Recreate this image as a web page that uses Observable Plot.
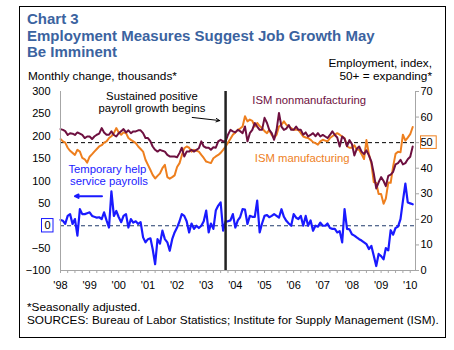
<!DOCTYPE html>
<html><head><meta charset="utf-8">
<script src="https://cdn.jsdelivr.net/npm/d3@7"></script>
<script src="https://cdn.jsdelivr.net/npm/@observablehq/plot@0.6"></script>
<style>
body{margin:0;background:#fff;font-family:"Liberation Sans",Arial,sans-serif;}
#wrap{position:relative;width:454px;height:350px;overflow:hidden;background:#fff;}
#frame{position:absolute;left:19px;top:6px;width:427px;height:332px;border:1.5px solid #000;box-sizing:border-box;}
#title{position:absolute;left:27px;top:11px;font-weight:bold;font-size:15px;line-height:16.6px;color:#3b63a0;white-space:nowrap;}
.lab{position:absolute;font-size:11.8px;line-height:13px;color:#000;white-space:nowrap;}
#foot{position:absolute;left:27px;top:301px;font-size:11.8px;line-height:13px;color:#000;white-space:nowrap;}
#chart{position:absolute;left:0;top:60px;}
</style></head>
<body>
<div id="wrap">
  <div id="frame"></div>
  <div id="title">Chart 3<br>Employment Measures Suggest Job Growth May<br>Be Imminent</div>
  <div class="lab" style="left:28px;top:70px;">Monthly change, thousands*</div>
  <div class="lab" style="right:22px;top:57px;text-align:right;">Employment, index,<br>50+ = expanding*</div>
  <div id="chart"></div>
  <div id="foot">*Seasonally adjusted.<br>SOURCES: Bureau of Labor Statistics; Institute for Supply Management (ISM).</div>
</div>
<script>
// ---- data (monthly, Jan 1998 – Feb 2010) ----
const tempHelp1998 = [13, 11, 4, 22, 26, 4, 15, -22, 37, 26, 26, 28];
const tempHelp1999 = [30, 22, 20, 18, 19, 15, 30, 12, -4, 77, 22, 33];
const tempHelp2000 = [19, 8, 22, 26, -4, 15, 7, 10, 4, 8, -26, -37];
const tempHelp2001 = [-30, -28, -52, -86, -30, -40, -11, -30, -37, -56, -30, -15];
const tempHelp2002 = [-4, 10, 26, 22, 10, -15, 5, -7, 0, -5, 0, 10];
const tempHelp2003 = [34, -15, 5, -7, 34, 45, 52, -11, 10, 10, 12, 26];
const tempHelp2004 = [-4, 12, 19, 37, 36, 4, 22, 20, 20, 56, -15, 5];
const tempHelp2005 = [22, 24, 19, 22, 26, 22, 18, 37, 20, 11, 5, 0];
const tempHelp2006 = [26, 18, 15, 22, 0, 22, 0, 12, -11, 0, -2, 7];
const tempHelp2007 = [0, 0, 5, -5, -7, -7, -15, -12, -37, 37, -7, -8];
const tempHelp2008 = [-19, -22, -26, -30, -33, -37, -41, -52, -45, -67, -90, -63];
const tempHelp2009 = [-68, -75, -50, -55, -10, -20, -5, -2, 15, 55, 94, 52];
const tempHelp2010 = [50, 48];

const ismNonmfg1998 = [55.3, 55, 54.5, 53, 53.7, 53.5, 53, 54, 53.5, 53, 51.8, 52.4];
const ismNonmfg1999 = [52.4, 51.4, 52.4, 53.1, 53.5, 55.7, 54, 53.1, 53.1, 54.4, 53, 52.4];
const ismNonmfg2000 = [53.7, 54.5, 55.3, 54, 54.8, 53.7, 54.4, 54.4, 54.8, 54.8, 53.7, 51.8];
const ismNonmfg2001 = [51.8, 50.5, 48.5, 47.2, 46.5, 47.2, 46.8, 46.5, 45.2, 44.6, 44.6, 44.6];
const ismNonmfg2002 = [44.3, 46, 48, 44.6, 46.5, 46.5, 47.2, 46.5, 47.2, 47.8, 50.5, 48.5];
const ismNonmfg2003 = [48, 48, 47.2, 48.2, 48, 50.5, 51.1, 50.5, 50.5, 53.1, 55, 54.4];
const ismNonmfg2004 = [54, 55, 54.5, 53.7, 56.3, 50.5, 53.7, 55, 57.7, 56.3, 55, 55];
const ismNonmfg2005 = [59.7, 57.7, 55, 53.7, 51.1, 55, 61.6, 56.3, 55, 55.5, 56.9, 55];
const ismNonmfg2006 = [55, 56.3, 55, 55, 53.1, 54, 52.4, 53, 53.7, 52.5, 53.7, 52.4];
const ismNonmfg2007 = [53, 52.4, 51.8, 53, 54.4, 53, 52, 48.5, 52.4, 51.5, 48.6, 51];
const ismNonmfg2008 = [49.5, 45, 47.5, 48.5, 46.5, 45.5, 47, 45, 42.6, 38, 32.1, 34.5];
const ismNonmfg2009 = [36.5, 35, 33, 37, 37.5, 38.6, 41.5, 42, 43.3, 41.5, 42, 43.5];
const ismNonmfg2010 = [44.5, 48.5];

const ismMfg1998 = [51.4, 50.5, 50, 48, 46.8, 46, 45.2, 47.2, 46.5, 44, 43.5, 42.2];
const ismMfg1999 = [44.5, 45.5, 46.5, 47.5, 48.5, 49, 50, 50.5, 51.8, 52.5, 53.7, 55.7];
const ismMfg2000 = [54, 53.1, 54, 53.7, 51.8, 51.1, 50.5, 49.8, 48.5, 47.5, 46.5, 43.3];
const ismMfg2001 = [41.3, 39.3, 37.4, 36, 37, 38, 40, 41.3, 36.5, 35.9, 36.5, 37.2];
const ismMfg2002 = [40.5, 42, 45, 47.8, 48.5, 48, 46.5, 47.2, 46.8, 46.5, 45.2, 44];
const ismMfg2003 = [42.6, 42.3, 42, 43.9, 44.6, 45.2, 46, 47.2, 48.5, 50, 51.5, 53.1];
const ismMfg2004 = [54, 55, 55.5, 56.3, 60.3, 58.3, 59, 58.5, 56.3, 57.7, 56.5, 55.7];
const ismMfg2005 = [54.5, 53.7, 55, 53, 51.8, 53.1, 56.3, 57, 58.3, 57, 56.3, 55.7];
const ismMfg2006 = [55, 55, 55, 53.7, 52.4, 52, 51.8, 51.1, 50.2, 49.8, 49.2, 50.5];
const ismMfg2007 = [51.1, 50.8, 50.5, 51.8, 52.5, 53.1, 53.7, 53.1, 52.4, 51.8, 48.6, 48];
const ismMfg2008 = [48, 49, 47.3, 47.2, 45.5, 43.6, 51, 45.5, 41.8, 34.6, 34.2, 29.9];
const ismMfg2009 = [29.9, 26.1, 28.1, 34.4, 34.3, 40.7, 45.6, 46.4, 46.2, 53.1, 50.8, 52.0];
const ismMfg2010 = [53.3, 56.1];

const yearLabels = ["'98","'99","'00","'01","'02","'03","'04","'05","'06","'07","'08","'09","'10"];
const leftTicks = [-100, -50, 0, 50, 100, 150, 200, 250, 300];
const rightTicks = [0, 10, 20, 30, 40, 50, 60, 70];
const eventDate = "2003-09-01";

const tempHelp = [].concat(tempHelp1998, tempHelp1999, tempHelp2000, tempHelp2001, tempHelp2002, tempHelp2003, tempHelp2004, tempHelp2005, tempHelp2006, tempHelp2007, tempHelp2008, tempHelp2009, tempHelp2010);
const ismNonmfg = [].concat(ismNonmfg1998, ismNonmfg1999, ismNonmfg2000, ismNonmfg2001, ismNonmfg2002, ismNonmfg2003, ismNonmfg2004, ismNonmfg2005, ismNonmfg2006, ismNonmfg2007, ismNonmfg2008, ismNonmfg2009, ismNonmfg2010);
const ismMfg = [].concat(ismMfg1998, ismMfg1999, ismMfg2000, ismMfg2001, ismMfg2002, ismMfg2003, ismMfg2004, ismMfg2005, ismMfg2006, ismMfg2007, ismMfg2008, ismMfg2009, ismMfg2010);

const start = new Date(Date.UTC(1998, 0, 1));
const months = tempHelp.map((_, i) => d3.utcMonth.offset(start, i));
// secondary (right) axis mapped onto the left scale: 0..70 -> -100..300
const toLeft = v => v * 400 / 70 - 100;
const fromLeft = v => Math.round((v + 100) * 70 / 400);

const tempData = months.map((d, i) => ({date: d, value: tempHelp[i]}));
const nonmfgData = months.map((d, i) => ({date: d, value: toLeft(ismNonmfg[i])}));
const mfgData = months.map((d, i) => ({date: d, value: toLeft(ismMfg[i])}));

const yearTicks = yearLabels.map((_, i) => new Date(Date.UTC(1998 + i, 0, 1)));
const quarterTicks = d3.utcMonth.every(3).range(start, new Date(Date.UTC(2010, 3, 1)));

const C_BLUE = "#1a1aff", C_MAROON = "#6e1040", C_ORANGE = "#ee7f1e";

const notesStart = [
  {date: "2004-08-01", y: 281, text: "ISM nonmanufacturing", color: C_MAROON},
  {date: "2004-09-01", y: 151, text: "ISM manufacturing", color: C_ORANGE},
  {date: "1998-04-10", y: 125, text: "Temporary help", color: C_BLUE},
  {date: "1998-05-01", y: 100, text: "service payrolls", color: C_BLUE}
].map(d => ({...d, date: new Date(d.date)}));
const notesMiddle = [
  {date: "2001-02-20", y: 290, text: "Sustained positive", color: "#000"},
  {date: "2001-02-20", y: 263, text: "payroll growth begins", color: "#000"}
].map(d => ({...d, date: new Date(d.date)}));

const arrows = [
  {x1: new Date("2002-07-10"), y1: 242, x2: new Date("2003-06-20"), y2: 235, color: "#000", w: 1},
  {x1: new Date("1999-06-05"), y1: 66, x2: new Date("1998-07-01"), y2: 66, color: C_BLUE, w: 2}
];

const plot = Plot.plot({
  width: 454, height: 240,
  marginLeft: 60, marginRight: 39, marginTop: 31, marginBottom: 30,
  style: {fontFamily: "'Liberation Sans', Arial, sans-serif", fontSize: "11px", background: "transparent", color: "#000"},
  x: {type: "utc", domain: [start, new Date(Date.UTC(2010, 2, 8))], label: null},
  y: {domain: [-100, 300], label: null},
  marks: [
    Plot.ruleY([0], {stroke: "#1f3a6b", strokeDasharray: "4,3", strokeWidth: 1}),
    Plot.ruleY([toLeft(50)], {stroke: "#000", strokeDasharray: "4,3", strokeWidth: 1}),
    Plot.line(mfgData, {x: "date", y: "value", stroke: C_ORANGE, strokeWidth: 2}),
    Plot.line(nonmfgData, {x: "date", y: "value", stroke: C_MAROON, strokeWidth: 2}),
    Plot.line(tempData, {x: "date", y: "value", stroke: C_BLUE, strokeWidth: 2.2}),
    Plot.ruleX([new Date(eventDate)], {stroke: "#222", strokeWidth: 2.5}),
    Plot.frame({anchor: "left", stroke: "#a6a6a6"}),
    Plot.frame({anchor: "right", stroke: "#a6a6a6"}),
    Plot.frame({anchor: "bottom", stroke: "#a6a6a6"}),
    Plot.axisY(leftTicks, {anchor: "left", tickSize: 0, tickPadding: 10, fill: "#000"}),
    Plot.axisY(rightTicks.map(toLeft), {anchor: "right", tickSize: 3, tickPadding: 2, stroke: "#a6a6a6", fill: "#000", tickFormat: fromLeft}),
    Plot.axisX(quarterTicks, {anchor: "bottom", tickSize: 3, stroke: "#a6a6a6", tickFormat: () => ""}),
    Plot.axisX(yearTicks, {anchor: "bottom", tickSize: 0, tickPadding: 11, fill: "#000", tickFormat: (d) => yearLabels[d.getUTCFullYear() - 1998]}),
    Plot.text(notesStart, {x: "date", y: "y", text: "text", fill: "color", textAnchor: "start", fontSize: 11.3}),
    Plot.text(notesMiddle, {x: "date", y: "y", text: "text", fill: "color", textAnchor: "middle", fontSize: 11.3}),
    Plot.arrow(arrows, {x1: "x1", y1: "y1", x2: "x2", y2: "y2", stroke: "color", strokeWidth: "w", headLength: 6, headAngle: 50})
  ]
});
document.getElementById("chart").appendChild(plot);

// boxes around the "0" (left) and "50" (right) tick labels, placed via the plot's y scale
const ys = plot.scale("y");
const svg = d3.select(plot);
svg.append("rect").attr("x", 41.5).attr("y", ys.apply(0) - 6.7).attr("width", 11.5).attr("height", 13.4)
  .attr("fill", "none").attr("stroke", C_BLUE).attr("stroke-width", 1);
svg.append("rect").attr("x", 420.5).attr("y", ys.apply(toLeft(50)) - 6.3).attr("width", 15.7).attr("height", 12.6)
  .attr("fill", "none").attr("stroke", C_ORANGE).attr("stroke-width", 1);
</script>
</body></html>
